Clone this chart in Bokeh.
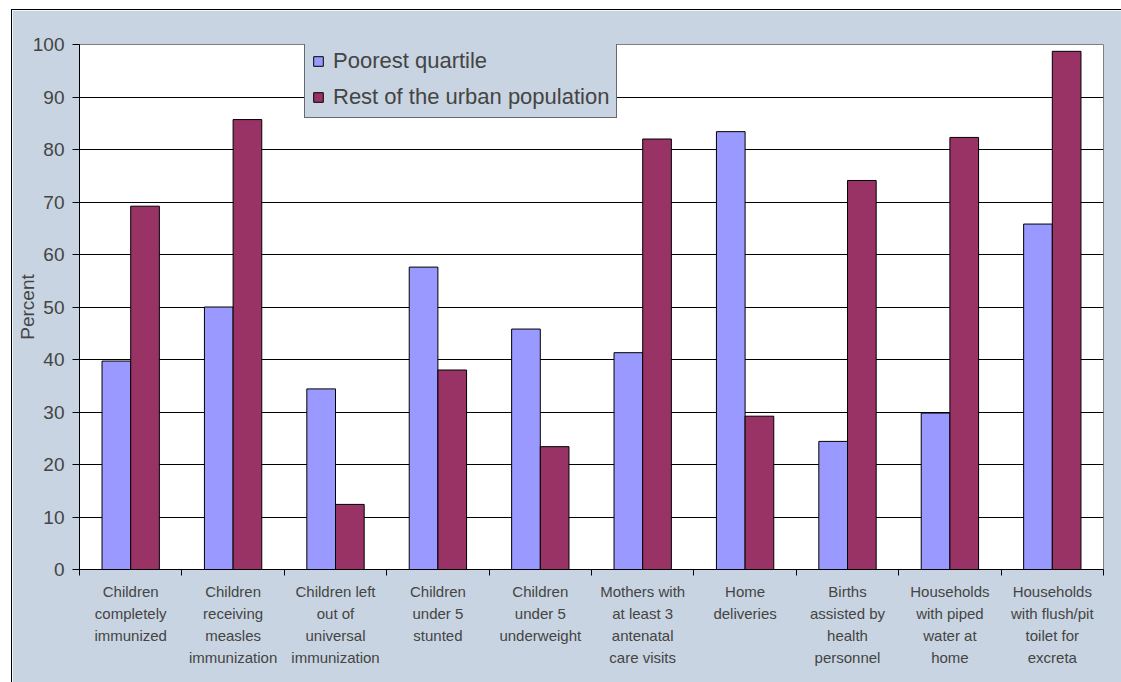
from bokeh.plotting import figure
from bokeh.models import ColumnDataSource, Range1d, FixedTicker, Legend, LegendItem
from bokeh.transform import dodge
from bokeh.embed import file_html
from bokeh.resources import INLINE

categories = [
    "Children\ncompletely\nimmunized",
    "Children\nreceiving\nmeasles\nimmunization",
    "Children left\nout of\nuniversal\nimmunization",
    "Children\nunder 5\nstunted",
    "Children\nunder 5\nunderweight",
    "Mothers with\nat least 3\nantenatal\ncare visits",
    "Home\ndeliveries",
    "Births\nassisted by\nhealth\npersonnel",
    "Households\nwith piped\nwater at\nhome",
    "Households\nwith flush/pit\ntoilet for\nexcreta",
]
poorest = [39.7, 50.0, 34.4, 57.6, 45.8, 41.3, 83.4, 24.4, 29.8, 65.8]
rest = [69.2, 85.7, 12.4, 38.0, 23.4, 82.0, 29.2, 74.1, 82.3, 98.7]
series_names = ["Poorest quartile", "Rest of the urban population"]
y_ticks = list(range(0, 101, 10))

BG = "#C8D4E1"
FONT = "Liberation Sans"

idx = list(range(len(categories)))
src = ColumnDataSource(dict(x=idx, poorest=poorest, rest=rest))

p = figure(width=1110, height=673, output_backend="svg", toolbar_location=None,
           x_range=Range1d(-0.5, len(categories) - 0.5), y_range=Range1d(0, 100),
           min_border_left=67, min_border_right=19, min_border_top=34, min_border_bottom=114,
           background_fill_color="white", border_fill_color=BG,
           outline_line_color="#808080", outline_line_width=1,
           margin=(9, 0, 0, 11),
           styles={"border-left": "1px solid black", "border-top": "1px solid black"})

r1 = p.vbar(x=dodge("x", -0.14, range=p.x_range), top="poorest", width=0.28, source=src,
            fill_color="#9999FF", line_color="black", line_width=1)
r2 = p.vbar(x=dodge("x", 0.14, range=p.x_range), top="rest", width=0.28, source=src,
            fill_color="#993366", line_color="black", line_width=1)

# grid
p.xgrid.grid_line_color = None
p.ygrid.grid_line_color = "black"
p.ygrid.grid_line_width = 1
p.ygrid.ticker = FixedTicker(ticks=y_ticks)

# y axis
p.yaxis.ticker = FixedTicker(ticks=y_ticks)
p.yaxis.axis_label = "Percent"
p.yaxis.axis_label_text_font = FONT
p.yaxis.axis_label_text_font_size = "19px"
p.yaxis.axis_label_text_font_style = "normal"
p.yaxis.axis_label_standoff = -8
p.yaxis.major_label_text_font = FONT
p.yaxis.major_label_text_font_size = "19px"
p.yaxis.major_tick_out = 7
p.yaxis.major_tick_in = 0
p.yaxis.minor_tick_line_color = None
p.yaxis.major_label_standoff = 8
p.yaxis.axis_line_color = "black"

# x axis
p.xaxis.ticker = FixedTicker(ticks=idx, minor_ticks=[i - 0.5 for i in range(len(categories) + 1)])
p.xaxis.major_label_overrides = {i: c for i, c in zip(idx, categories)}
p.xaxis.major_tick_line_color = None
p.xaxis.minor_tick_line_color = "black"
p.xaxis.minor_tick_out = 6
p.xaxis.minor_tick_in = 0
p.xaxis.major_label_text_font = FONT
p.xaxis.major_label_text_font_size = "15px"
p.xaxis.major_label_text_line_height = 1.3
p.xaxis.major_label_standoff = 7
p.xaxis.axis_line_color = "black"

legend = Legend(items=[LegendItem(label=series_names[0], renderers=[r1]),
                       LegendItem(label=series_names[1], renderers=[r2])],
                location=(225, 451), orientation="vertical",
                label_text_font=FONT, label_text_font_size="22px",
                glyph_width=12, glyph_height=12, label_standoff=9,
                label_height=27, spacing=9, padding=7, margin=0,
                border_line_color="black", border_line_width=1,
                background_fill_color=BG, background_fill_alpha=1)
p.add_layout(legend, "center")

open("out.html", "w").write(file_html(p, INLINE))
